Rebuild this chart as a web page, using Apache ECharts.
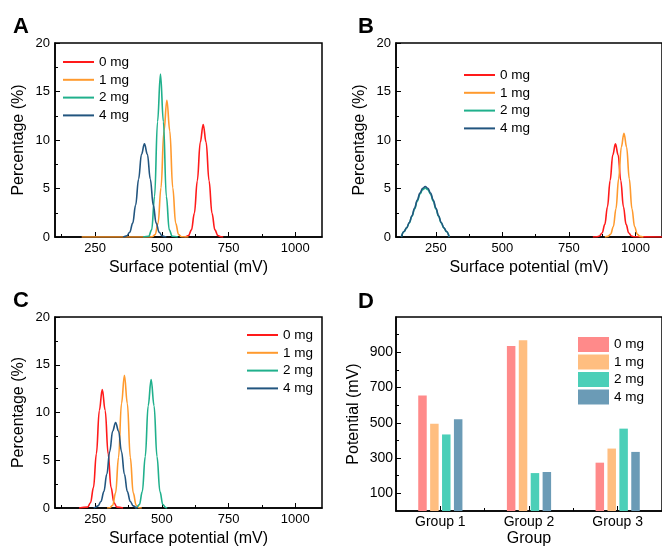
<!DOCTYPE html>
<html>
<head>
<meta charset="utf-8">
<script src="https://cdn.jsdelivr.net/npm/echarts@6.0.0/dist/echarts.min.js"></script>
<style>html,body{margin:0;padding:0;background:#fff;}#chart{width:662px;height:548px;}</style>
</head>
<body>
<div id="chart"></div>
<script>
// ---------- data ----------
const seriesNames = ['0 mg', '1 mg', '2 mg', '4 mg'];
const xTickLabels = [250, 500, 750, 1000];
const xMinorTicks = [125, 375, 625, 875];
const groups = ['Group 1', 'Group 2', 'Group 3'];
const dTickLabels = [100, 300, 500, 700, 900];
const dMinorTicks = [200, 400, 600, 800, 1000];

// Panel A  [surface potential (mV), percentage (%)]
const aRed = [[585,0],[589,0.02],[600,0.15],[611,0.73],[622,2.45],[633,5.80],[644,9.76],[655,11.6],[666,9.76],[677,5.80],[688,2.45],[699,0.73],[710,0.15],[721,0.02],[730,0]];
const aOrange = [[200,0],[455,0],[464,0.02],[475,0.24],[486,1.42],[497,5.08],[508,10.93],[519,14.1],[530,10.93],[541,5.08],[552,1.42],[563,0.24],[574,0.02],[600,0]];
const aGreen = [[430,0],[451,0.07],[462,0.74],[473,4.19],[484,11.88],[495,16.8],[506,11.88],[517,4.19],[528,0.74],[539,0.07],[560,0]];
const aBlue = [[355,0],[358,0.03],[369,0.13],[380,0.49],[391,1.43],[402,3.29],[413,5.96],[424,8.52],[435,9.6],[446,8.52],[457,5.96],[468,3.29],[479,1.43],[490,0.49],[501,0.13],[512,0.03],[517,0]];

// Panel B
const bRed = [[840,0],[855,0.02],[865,0.11],[875,0.42],[885,1.30],[895,3.12],[905,5.83],[915,8.47],[925,9.6],[935,8.47],[945,5.83],[955,3.12],[965,1.30],[975,0.42],[985,0.11],[995,0.02],[1100,0]];
const bOrange = [[885,0],[897,0.06],[907,0.29],[917,1.06],[927,2.91],[937,6.00],[947,9.26],[957,10.7],[967,9.26],[977,6.00],[987,2.91],[997,1.06],[1007,0.29],[1017,0.06],[1030,0]];
const bGreen = [[120,0],[130,0.55],[140,0.92],[150,1.45],[160,2.13],[170,2.90],[180,3.70],[190,4.40],[200,4.88],[210,5.05],[220,4.88],[230,4.40],[240,3.70],[250,2.90],[260,2.13],[270,1.45],[280,0.92],[290,0.55],[300,0]];
const bBlue = [[120,0],[130,0.57],[140,0.95],[150,1.50],[160,2.19],[170,2.99],[180,3.81],[190,4.53],[200,5.02],[210,5.2],[220,5.02],[230,4.53],[240,3.81],[250,2.99],[260,2.19],[270,1.50],[280,0.95],[290,0.57],[300,0]];

// Panel C
const cRed = [[190,0],[222,0.09],[233,0.55],[244,2.13],[255,5.68],[266,10.21],[277,12.4],[288,10.21],[299,5.68],[310,2.13],[321,0.55],[332,0.09],[355,0]];
const cOrange = [[295,0],[305,0.03],[316,0.29],[327,1.58],[338,5.30],[349,10.93],[360,13.9],[371,10.93],[382,5.30],[393,1.58],[404,0.29],[415,0.03],[425,0]];
const cGreen = [[400,0],[405,0.04],[416,0.35],[427,1.72],[438,5.39],[449,10.71],[460,13.45],[471,10.71],[482,5.39],[493,1.72],[504,0.35],[515,0.04],[520,0]];
const cBlue = [[245,0],[250,0.06],[261,0.22],[272,0.68],[283,1.71],[294,3.53],[305,5.92],[316,8.07],[327,8.95],[338,8.07],[349,5.92],[360,3.53],[371,1.71],[382,0.68],[393,0.22],[404,0.06],[410,0]];

// Panel D  potential (mV) per group
const d0 = [655, 935, 274];
const d1 = [495, 968, 354];
const d2 = [434, 215, 467];
const d4 = [520, 221, 335];

// ---------- styling ----------
const FONT = '"Liberation Sans", Arial, sans-serif';
const lineColors = ['#ff1a1a', '#ff9a2e', '#20b08c', '#22557f'];
const barColors = ['#ff8a8a', '#ffbe80', '#4bcfb8', '#6b9bb6'];

const grids = [
  {left: 55, top: 43, width: 267, height: 194},
  {left: 396, top: 43, width: 267, height: 194},
  {left: 55, top: 317, width: 267, height: 194},
  {left: 396, top: 317, width: 267, height: 194}
].map(g => Object.assign({show: true, borderColor: '#000', borderWidth: 1.5, backgroundColor: 'transparent'}, g));

const axisLineStyle = {show: true, onZero: false, lineStyle: {color: '#000', width: 1.5}};
const plain = v => String(v);

function mainX(gi) {
  return {
    type: 'value', gridIndex: gi, min: 100, max: 1100, position: 'bottom',
    name: 'Surface potential (mV)', nameLocation: 'middle', nameGap: 23,
    nameTextStyle: {fontFamily: FONT, fontSize: 16, color: '#000'},
    axisLine: axisLineStyle,
    axisTick: {show: true, inside: true, length: 5, customValues: xTickLabels, lineStyle: {color: '#000', width: 1}},
    axisLabel: {show: true, margin: 5, fontFamily: FONT, fontSize: 13, color: '#000', customValues: xTickLabels, formatter: plain},
    splitLine: {show: false}
  };
}
function minorX(gi, min, max, vals) {
  return {
    type: 'value', gridIndex: gi, min: min, max: max, position: 'bottom',
    axisLine: {show: false},
    axisTick: {show: true, inside: true, length: 3, customValues: vals, lineStyle: {color: '#000', width: 1}},
    axisLabel: {show: false},
    splitLine: {show: false}
  };
}
function mainY(gi) {
  return {
    type: 'value', gridIndex: gi, min: 0, max: 20, interval: 5, position: 'left',
    name: 'Percentage (%)', nameLocation: 'middle', nameGap: 28,
    nameTextStyle: {fontFamily: FONT, fontSize: 16, color: '#000'},
    axisLine: axisLineStyle,
    axisTick: {show: true, inside: true, length: 5, lineStyle: {color: '#000', width: 1}},
    minorTick: {show: true, splitNumber: 2, length: 3, lineStyle: {color: '#000', width: 1}},
    axisLabel: {margin: 5, fontFamily: FONT, fontSize: 13, color: '#000', formatter: plain},
    splitLine: {show: false}, minorSplitLine: {show: false}
  };
}

const xAxes = [
  mainX(0), mainX(1), mainX(2),
  {
    type: 'category', gridIndex: 3, data: groups, position: 'bottom',
    name: 'Group', nameLocation: 'middle', nameGap: 20,
    nameTextStyle: {fontFamily: FONT, fontSize: 16, color: '#000'},
    axisLine: axisLineStyle,
    axisTick: {show: true, inside: true, length: 5, alignWithLabel: true, lineStyle: {color: '#000', width: 1}},
    axisLabel: {margin: 4, fontFamily: FONT, fontSize: 14, color: '#000'},
    splitLine: {show: false}
  },
  minorX(0, 100, 1100, xMinorTicks), minorX(1, 100, 1100, xMinorTicks), minorX(2, 100, 1100, xMinorTicks),
  minorX(3, 0, 3, [1, 2])
];

const yAxes = [
  mainY(0), mainY(1), mainY(2),
  {
    type: 'value', gridIndex: 3, min: 0, max: 1100, position: 'left',
    name: 'Potential (mV)', nameLocation: 'middle', nameGap: 34,
    nameTextStyle: {fontFamily: FONT, fontSize: 16, color: '#000'},
    axisLine: axisLineStyle,
    axisTick: {show: true, inside: true, length: 5, customValues: dTickLabels, lineStyle: {color: '#000', width: 1}},
    axisLabel: {margin: 3, fontFamily: FONT, fontSize: 14, color: '#000', customValues: dTickLabels, formatter: plain},
    splitLine: {show: false}
  },
  {
    type: 'value', gridIndex: 3, min: 0, max: 1100, position: 'left',
    axisLine: {show: false},
    axisTick: {show: true, inside: true, length: 3, customValues: dMinorTicks, lineStyle: {color: '#000', width: 1}},
    axisLabel: {show: false}, splitLine: {show: false}
  }
];

function lineSeries(panel, idx, data, axis) {
  return {
    type: 'line', name: panel + '|' + seriesNames[idx], xAxisIndex: axis, yAxisIndex: axis,
    data: data, smooth: 0.4, smoothMonotone: 'x', showSymbol: false, symbol: 'none',
    lineStyle: {color: lineColors[idx], width: 1.6}, itemStyle: {color: lineColors[idx]},
    animation: false, clip: true
  };
}

const series = [
  lineSeries('A', 0, aRed, 0), lineSeries('A', 1, aOrange, 0), lineSeries('A', 2, aGreen, 0), lineSeries('A', 3, aBlue, 0),
  lineSeries('B', 0, bRed, 1), lineSeries('B', 1, bOrange, 1), lineSeries('B', 2, bGreen, 1), lineSeries('B', 3, bBlue, 1),
  lineSeries('C', 0, cRed, 2), lineSeries('C', 1, cOrange, 2), lineSeries('C', 2, cGreen, 2), lineSeries('C', 3, cBlue, 2)
];
[d0, d1, d2, d4].forEach((d, i) => {
  series.push({
    type: 'bar', name: 'D|' + seriesNames[i], xAxisIndex: 3, yAxisIndex: 3, data: d,
    barWidth: 8.5, barGap: '40%',
    itemStyle: {color: barColors[i]}, animation: false
  });
});

function lineLegend(panel, left, top) {
  return {
    left: left, top: top, orient: 'vertical', itemWidth: 31, itemHeight: 2, itemGap: 3.8,
    padding: 0, icon: 'rect',
    data: seriesNames.map(n => panel + '|' + n),
    formatter: name => name.split('|')[1],
    textStyle: {fontFamily: FONT, fontSize: 13.5, color: '#000', lineHeight: 14},
    selectedMode: false
  };
}

const legends = [
  lineLegend('A', 63, 55),
  lineLegend('B', 464, 68),
  lineLegend('C', 247, 328),
  {
    left: 578, top: 337, orient: 'vertical', itemWidth: 31, itemHeight: 15, itemGap: 2.5, padding: 0,
    icon: 'rect',
    data: seriesNames.map(n => 'D|' + n),
    formatter: name => name.split('|')[1],
    textStyle: {fontFamily: FONT, fontSize: 13.5, color: '#000', lineHeight: 15},
    selectedMode: false
  }
];

function letter(t, x, y) {
  return {type: 'text', left: x, top: y, style: {text: t, font: 'bold 22px ' + FONT, fill: '#000'}};
}

const chart = echarts.init(document.getElementById('chart'), null, {renderer: 'canvas', width: 662, height: 548});
chart.setOption({
  backgroundColor: '#fff',
  animation: false,
  grid: grids,
  xAxis: xAxes,
  yAxis: yAxes,
  legend: legends,
  series: series,
  graphic: [letter('A', 13, 16), letter('B', 358, 16), letter('C', 13, 290), letter('D', 358, 291)]
});
</script>
</body>
</html>
